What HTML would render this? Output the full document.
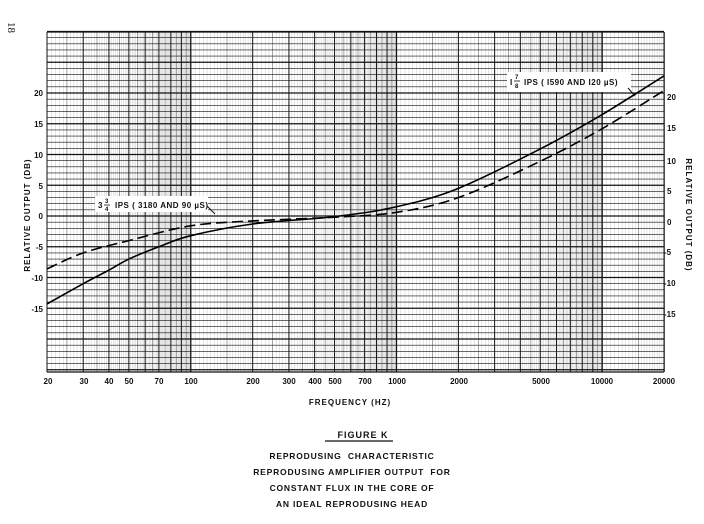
<!DOCTYPE html>
<html><head><meta charset="utf-8">
<style>
html,body{margin:0;padding:0;background:#fff;}
body{width:704px;height:519px;overflow:hidden;position:relative;font-family:"Liberation Sans",sans-serif;}
svg text{font-family:"Liberation Sans",sans-serif;font-weight:bold;fill:#111;}
</style></head><body>
<svg id="s" width="704" height="519" viewBox="0 0 704 519" xmlns="http://www.w3.org/2000/svg">
<g id="grid"></g>
<g id="curves"></g>
<g font-size="8" text-anchor="end">
<text x="43" y="96">20</text><text x="43" y="127">15</text><text x="43" y="158">10</text>
<text x="43" y="189">5</text><text x="43" y="219">0</text><text x="43" y="250">-5</text>
<text x="43" y="281">-10</text><text x="43" y="312">-15</text>
</g>
<g font-size="8" text-anchor="start">
<text x="667" y="100">20</text><text x="667" y="131">15</text><text x="667" y="164">10</text>
<text x="667" y="194">5</text><text x="667" y="225">0</text><text x="664" y="255">-5</text>
<text x="664" y="286">-10</text><text x="664" y="317">-15</text>
</g>
<text font-size="8" letter-spacing="1" text-anchor="middle" transform="translate(30,215) rotate(-90)">RELATIVE OUTPUT (DB)</text>
<text font-size="8" letter-spacing="1" text-anchor="middle" transform="translate(686,215) rotate(90)">RELATIVE OUTPUT (DB)</text>
<text font-size="11" style="font-family:'Liberation Serif',serif;font-weight:normal" transform="translate(8,22) rotate(90)">18</text>
<g font-size="8" text-anchor="middle">
<text x="48" y="384">20</text><text x="84" y="384">30</text><text x="109" y="384">40</text>
<text x="129" y="384">50</text><text x="159" y="384">70</text><text x="191" y="384">100</text>
<text x="253" y="384">200</text><text x="289" y="384">300</text><text x="315" y="384">400</text>
<text x="335" y="384">500</text><text x="365" y="384">700</text><text x="397" y="384">1000</text>
<text x="459" y="384">2000</text><text x="541" y="384">5000</text><text x="602" y="384">10000</text>
<text x="664" y="384">20000</text>
</g>
<text x="350" y="405" font-size="8" letter-spacing="1" text-anchor="middle">FREQUENCY (HZ)</text>
<text x="363" y="438" font-size="9" letter-spacing="1" text-anchor="middle">FIGURE K</text>
<line x1="325" y1="441" x2="393" y2="441" stroke="#111" stroke-width="1.2"/>
<g font-size="8.5" letter-spacing="0.8" text-anchor="middle">
<text x="352" y="459">REPRODUSING &#160;CHARACTERISTIC</text>
<text x="352" y="475">REPRODUSING AMPLIFIER OUTPUT &#160;FOR</text>
<text x="352" y="491">CONSTANT FLUX IN THE CORE OF</text>
<text x="352" y="507">AN IDEAL REPRODUSING HEAD</text>
</g>
<rect x="95" y="196" width="113" height="16" fill="#fff"/>
<text x="98" y="208" font-size="8" letter-spacing="0.5">3</text>
<text x="105" y="203" font-size="6">3</text><line x1="104" y1="205" x2="110" y2="205" stroke="#111" stroke-width="0.8"/><text x="105" y="211" font-size="6">4</text>
<text x="115" y="208" font-size="8" letter-spacing="0.5">IPS ( 3180 AND 90 µS)</text>
<line x1="207" y1="206" x2="215" y2="214" stroke="#111" stroke-width="1"/>
<rect x="507" y="72" width="124" height="20" fill="#fff"/>
<text x="510" y="85" font-size="8">I</text>
<text x="515" y="79" font-size="6">7</text><line x1="514" y1="81" x2="520" y2="81" stroke="#111" stroke-width="0.8"/><text x="515" y="88" font-size="6">8</text>
<text x="524" y="85" font-size="8" letter-spacing="0.5">IPS ( I590 AND I20 µS)</text>
<line x1="628" y1="88" x2="635" y2="96" stroke="#111" stroke-width="1"/>
</svg>
<script>
(function(){
var NS="http://www.w3.org/2000/svg";
var L=47,R=664,T=32,B=372,K=205.7,Y0=216,S=6.15;
function fx(f){return L+(Math.log10(f)-Math.log10(20))*K;}
function fy(d){return Y0-d*S;}
var g=document.getElementById('grid');
function ln(x1,y1,x2,y2,c,w){var e=document.createElementNS(NS,'line');e.setAttribute('x1',x1);e.setAttribute('y1',y1);e.setAttribute('x2',x2);e.setAttribute('y2',y2);e.setAttribute('stroke',c);e.setAttribute('stroke-width',w);g.appendChild(e);}
[10,100,1000,10000].forEach(function(d){
  var steps=[[1,2,0.05],[2,5,0.1],[5,10,0.1]];
  steps.forEach(function(s){
    for(var v=s[0];v<s[1]-1e-9;v+=s[2]){
      var f=v*d; if(f<20-1e-6||f>20000+1e-6)continue;
      var r=Math.round(v*1000)/1000;
      var x=fx(f);
      if(Math.abs(r-Math.round(r))<1e-6) ln(x,T,x,B,'#111',r==1?1.3:1);
      else if(Math.abs(r*2-Math.round(r*2))<1e-6) ln(x,T,x,B,'#666',0.6);
      else ln(x,T,x,B,'#bbb',0.4);
    }
  });
});
ln(fx(20000),T,fx(20000),B,'#111',1.2);
for(var d=-25;d<=30;d++){
  var y=fy(d); if(y<T-0.5||y>B+0.5)continue;
  ln(L,y,R,y,'#111',d%5==0?1.2:0.6);
}
ln(L,T,R,T,'#111',1.2);ln(L,B,R,B,'#111',1.2);
var c=document.getElementById('curves');
function curve(pts,dash){
  var P=pts.map(function(p){return [fx(p[0]),fy(p[1])];});
  var d='M'+P[0][0]+','+P[0][1];
  for(var i=0;i<P.length-1;i++){
    var p0=P[Math.max(0,i-1)],p1=P[i],p2=P[i+1],p3=P[Math.min(P.length-1,i+2)];
    var c1=[p1[0]+(p2[0]-p0[0])/6,p1[1]+(p2[1]-p0[1])/6];
    var c2=[p2[0]-(p3[0]-p1[0])/6,p2[1]-(p3[1]-p1[1])/6];
    d+='C'+c1+' '+c2+' '+p2;
  }
  var e=document.createElementNS(NS,'path');e.setAttribute('d',d);e.setAttribute('fill','none');
  e.setAttribute('stroke','#000');e.setAttribute('stroke-width','1.6');
  if(dash)e.setAttribute('stroke-dasharray','11 5');
  c.appendChild(e);
}
curve([[20,-14.3],[30,-11],[40,-8.8],[50,-7],[70,-5],[100,-3.2],[200,-1.3],[500,-0.1],[1000,1.5],[2000,4.5],[5000,10.9],[10000,16.5],[20000,22.8]],false);
curve([[20,-8.6],[30,-6],[50,-4],[100,-1.6],[200,-0.8],[500,-0.2],[1000,0.6],[2000,3],[5000,8.9],[10000,14.2],[20000,20.4]],true);
})();
</script>
</body></html>
